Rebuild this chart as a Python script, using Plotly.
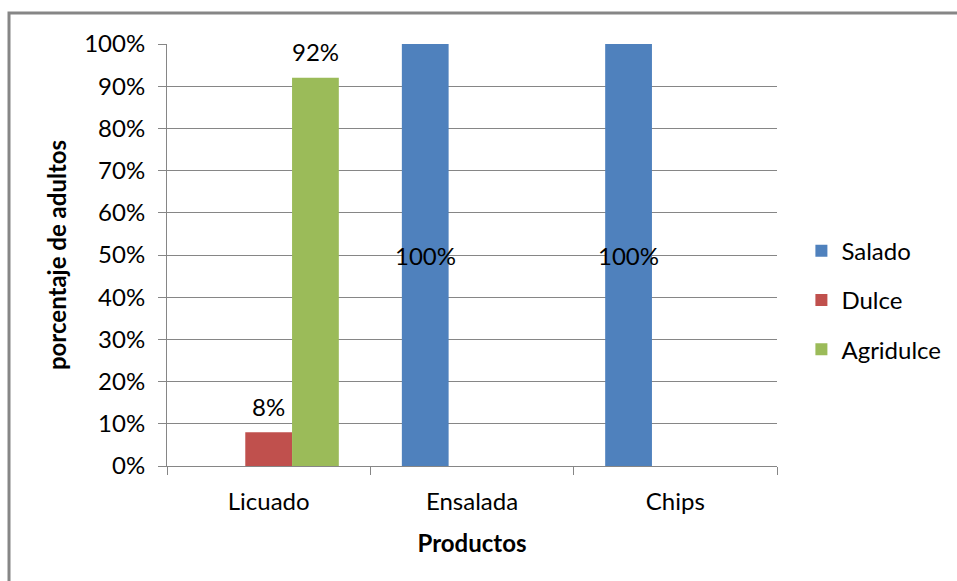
import plotly.graph_objects as go

# Productos y porcentaje de adultos por sabor
productos = ["Licuado", "Ensalada", "Chips"]
salado = [0.0, 1.0, 1.0]
dulce = [0.08, 0.0, 0.0]
agridulce = [0.92, 0.0, 0.0]
y_ticks = [0, 0.1, 0.2, 0.3, 0.4, 0.5, 0.6, 0.7, 0.8, 0.9, 1.0]

FONT = "Lato"
GRID = "#868686"
SIZE = 24
BARGAP = 0.31

fig = go.Figure()
series = [
    ("Salado", salado, "#4F81BD"),
    ("Dulce", dulce, "#C0504D"),
    ("Agridulce", agridulce, "#9BBB59"),
]
for i, (name, vals, color) in enumerate(series):
    fig.add_trace(go.Bar(
        name=name, x=productos, y=vals,
        marker=dict(color=color, line=dict(width=0)),
        offsetgroup=str(i), legendgroup=name,
    ))

# Value labels: full bars labelled at mid-height, the rest just above the bar
annotations = []
n = len(series)
slot = 1 - BARGAP
for i, (name, vals, color) in enumerate(series):
    for j, v in enumerate(vals):
        if v <= 0:
            continue
        xoff = -slot / 2 + slot / n * (i + 0.5)
        full = v >= 1
        annotations.append(dict(
            x=j + xoff, y=v / 2 if full else v, xref="x", yref="y",
            text=f"{v:.0%}", showarrow=False,
            font=dict(family=FONT, size=SIZE, color="#000000"),
            yanchor="middle", yshift=0 if full else 26,
        ))

fig.update_layout(
    width=957, height=581,
    margin=dict(l=167, r=180, t=44, b=115, autoexpand=False),
    paper_bgcolor="white", plot_bgcolor="white",
    barmode="group", bargap=BARGAP, bargroupgap=0,
    font=dict(family=FONT, size=SIZE, color="#000000"),
    showlegend=True,
    legend=dict(
        x=1.04, y=0.393, xanchor="left", yanchor="middle",
        font=dict(family=FONT, size=SIZE, color="#000000"),
        tracegroupgap=15, itemwidth=30,
        bgcolor="rgba(0,0,0,0)",
    ),
    annotations=annotations,
    xaxis=dict(
        showline=True, linecolor=GRID, linewidth=1,
        ticks="outside", tickson="boundaries", ticklen=8, tickcolor=GRID,
        tickfont=dict(family=FONT, size=SIZE), ticklabelstandoff=14,
        title=dict(text="<b>Productos</b>", font=dict(family=FONT, size=SIZE), standoff=21),
    ),
    yaxis=dict(
        range=[0, 1], tickvals=y_ticks, tickformat=".0%",
        showgrid=True, gridcolor=GRID, gridwidth=1,
        showline=True, linecolor=GRID, linewidth=1,
        ticks="outside", ticklen=8, tickcolor=GRID,
        tickfont=dict(family=FONT, size=SIZE), ticklabelstandoff=8, zeroline=False,
        title=dict(text="<b>porcentaje de adultos</b>", font=dict(family=FONT, size=SIZE), standoff=10),
    ),
    shapes=[dict(
        type="rect", xref="paper", yref="paper",
        x0=-0.259, x1=1.4, y0=-0.4, y1=1.0735,
        line=dict(color=GRID, width=3), layer="below",
    )],
)

fig.write_html("out.html")
